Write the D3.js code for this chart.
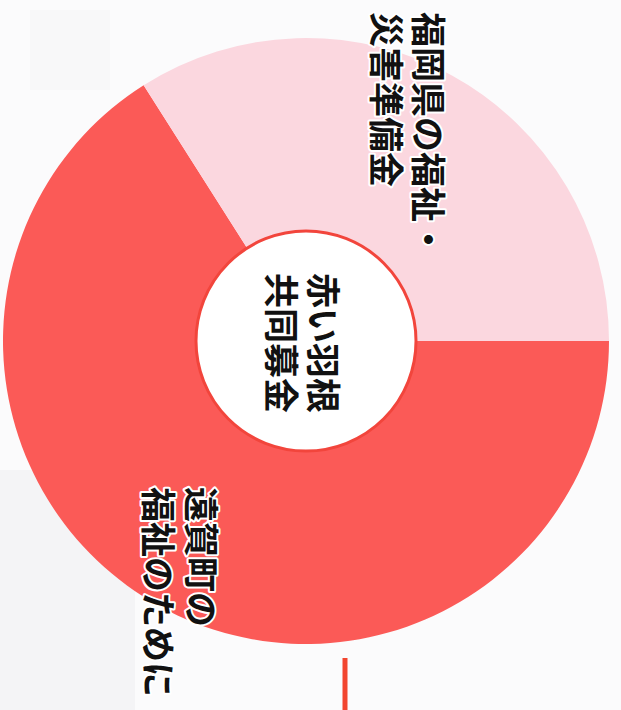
<!DOCTYPE html>
<html>
<head>
<meta charset="utf-8">
<script src="https://cdn.jsdelivr.net/npm/d3@7"></script>
<style>
  body { margin: 0; background: #fbfbfc; }
  svg { display: block; }
</style>
</head>
<body>
<script>
// donut of where the red feather money goes (page is photographed turned 90deg)
var categories = ["遠賀町の福祉のために", "福岡県の福祉・災害準備金"];
var shares = [66, 34];
var colors = ["#fb5a57", "#fbd7df"];
var sliceLabels = [["遠賀町の", "福祉のために"], ["福岡県の福祉・", "災害準備金"]];
var centerLabel = ["赤い羽根", "共同募金"];

var w = 621, h = 710,
    cx = 306, cy = 341,
    rOuter = 303, rInner = 110;

var svg = d3.select("body").append("svg")
    .attr("width", w)
    .attr("height", h);

// faint paper shading
svg.append("rect").attr("x", 0).attr("y", 0).attr("width", w).attr("height", h).attr("fill", "#fbfbfc");
svg.append("rect").attr("x", 0).attr("y", 470).attr("width", 135).attr("height", 240).attr("fill", "#f4f4f6");
svg.append("rect").attr("x", 30).attr("y", 10).attr("width", 80).attr("height", 80).attr("fill", "#f8f8f9");

var pie = d3.pie().sort(null)
    .startAngle(Math.PI / 2)
    .endAngle(Math.PI / 2 + 2 * Math.PI);

var arc = d3.arc().innerRadius(rInner).outerRadius(rOuter);

var g = svg.append("g").attr("transform", "translate(" + cx + "," + cy + ")");

g.selectAll("path.slice")
    .data(pie(shares))
    .enter().append("path")
    .attr("class", "slice")
    .attr("d", arc)
    .attr("fill", function(d, i){ return colors[i]; });

// white hole with red rim
g.append("circle")
    .attr("r", rInner)
    .attr("fill", "#ffffff")
    .attr("stroke", "#f2453c")
    .attr("stroke-width", 3);

// red marker line under the donut
svg.append("line")
    .attr("x1", 345).attr("x2", 345)
    .attr("y1", 658).attr("y2", h)
    .attr("stroke", "#f2452f")
    .attr("stroke-width", 5);

function addLabel(lines, x, y, anchor, gap, halo){
    var lg = svg.append("g")
        .attr("transform", "translate(" + x + "," + y + ") rotate(90)");
    lg.selectAll("text")
        .data(lines)
        .enter().append("text")
        .attr("x", 0)
        .attr("y", function(d, i){ return i * gap - (anchor === "middle" ? gap / 2 : 0); })
        .attr("text-anchor", anchor)
        .attr("dominant-baseline", "central")
        .attr("font-family", "'Noto Sans CJK JP', 'Noto Sans', sans-serif")
        .attr("font-weight", "bold")
        .attr("font-size", 35)
        .attr("fill", "#111")
        .attr("stroke", halo ? "#ffffff" : "none")
        .attr("stroke-width", 4)
        .attr("stroke-linejoin", "round")
        .attr("paint-order", "stroke")
        .text(function(d){ return d; });
}

addLabel(sliceLabels[1], 430, 12, "start", 42, true);
addLabel(sliceLabels[0], 203, 487, "start", 43, true);
addLabel(centerLabel, 304, 343, "middle", 42, false);
</script>
</body>
</html>
